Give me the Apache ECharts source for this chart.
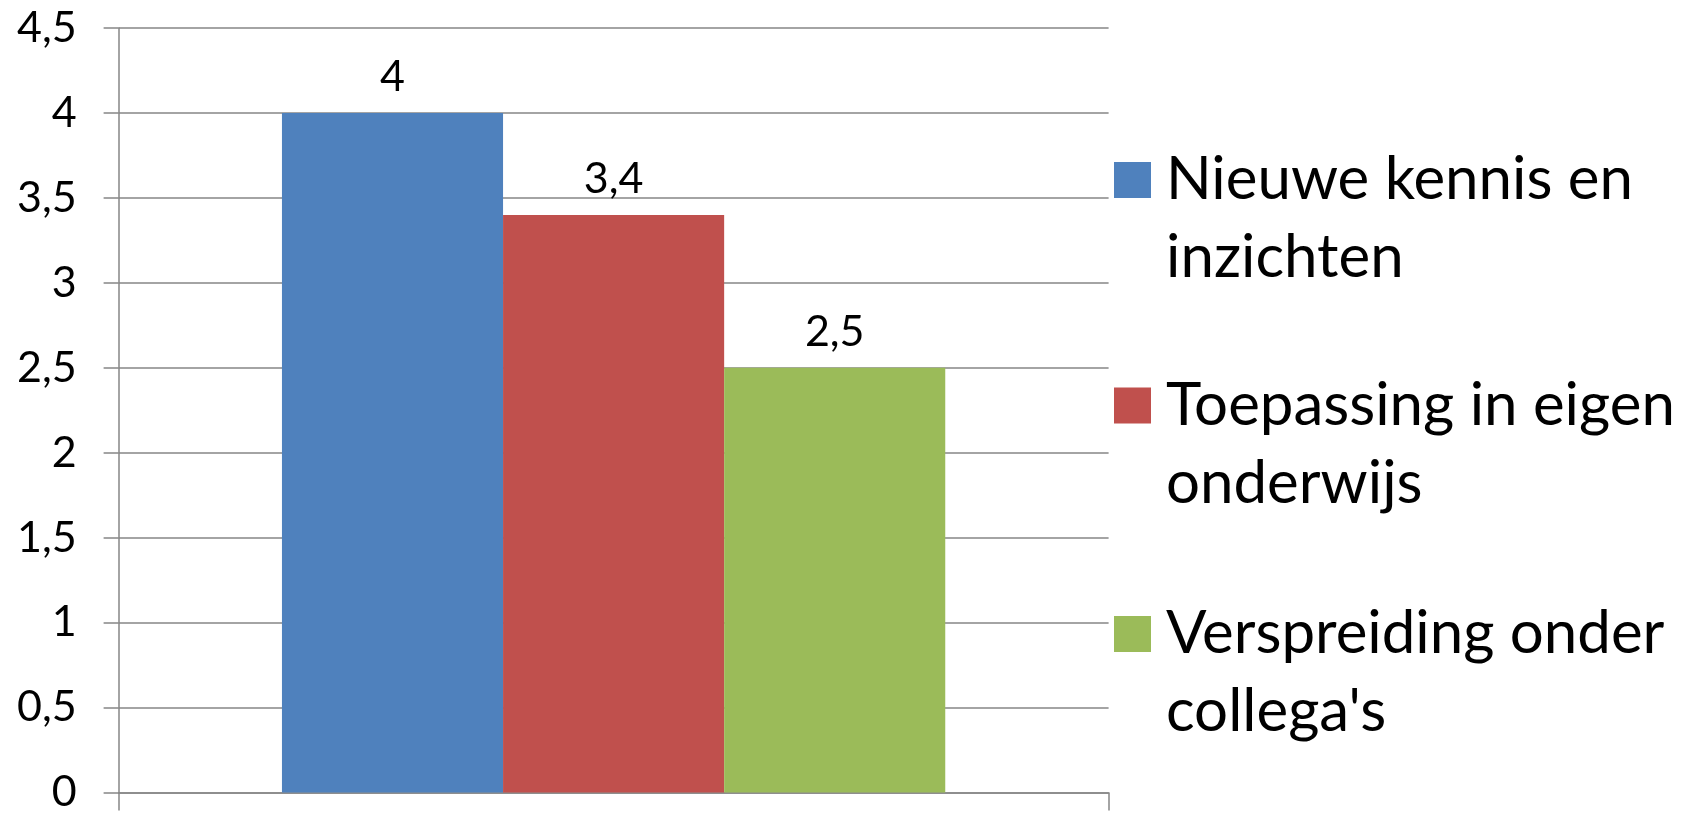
<!DOCTYPE html>
<html>
<head>
<meta charset="utf-8">
<script src="https://cdn.jsdelivr.net/npm/echarts@6/dist/echarts.min.js"></script>
<style>
html,body{margin:0;padding:0;background:#fff;}
#chart{width:1691px;height:814px;}
</style>
</head>
<body>
<div id="chart"></div>
<script>
const categories = [''];
const seriesNames = ['Nieuwe kennis en\ninzichten', 'Toepassing in eigen\nonderwijs', 'Verspreiding onder\ncollega\'s'];
const seriesValues = [[4], [3.4], [2.5]];
const seriesColors = ['#4F81BD', '#C0504D', '#9BBB59'];
const yTickLabels = ['0', '0,5', '1', '1,5', '2', '2,5', '3', '3,5', '4', '4,5'];

const FONT = 'Lato';
const legendTops = [63, 288.5, 517];

const chart = echarts.init(document.getElementById('chart'));
const option = {
  backgroundColor: '#ffffff',
  animation: false,
  grid: { left: 118.6, right: 582.4, top: 28, bottom: 16.5, containLabel: false },
  xAxis: {
    type: 'category',
    data: categories,
    axisLine: { show: true, lineStyle: { color: '#868686', width: 1.5 } },
    axisTick: { show: true, length: 18, alignWithLabel: false, lineStyle: { color: '#868686', width: 1.5 } },
    axisLabel: { show: false },
    splitLine: { show: false }
  },
  yAxis: {
    type: 'value',
    min: 0,
    max: 4.5,
    interval: 0.5,
    axisLine: { show: true, lineStyle: { color: '#868686', width: 1.5 } },
    axisTick: { show: true, length: 15, lineStyle: { color: '#868686', width: 1.5 } },
    axisLabel: {
      margin: 42,
      color: '#000',
      fontFamily: FONT,
      fontSize: 43,
      formatter: function (v) { return yTickLabels[Math.round(v / 0.5)]; }
    },
    splitLine: { show: true, lineStyle: { color: '#868686', width: 1.5 } }
  },
  legend: seriesNames.map(function (name, i) {
    return {
      data: [name],
      orient: 'vertical',
      left: 1114,
      top: legendTops[i],
      padding: 0,
      icon: 'rect',
      itemWidth: 37,
      itemHeight: 36,
      selectedMode: false,
      formatter: function (n) { return '\n' + n; },
      textStyle: {
        fontFamily: FONT,
        fontSize: 60,
        color: '#000',
        lineHeight: 78,
        padding: [0, 0, 0, 10]
      }
    };
  }),
  series: seriesNames.map(function (name, i) {
    return {
      name: name,
      type: 'bar',
      data: seriesValues[i],
      barGap: '0%',
      barCategoryGap: '33%',
      itemStyle: { color: seriesColors[i] },
      label: {
        show: true,
        position: 'top',
        distance: 14,
        color: '#000',
        fontFamily: FONT,
        fontSize: 43,
        formatter: function (p) { return String(p.value).replace('.', ','); }
      }
    };
  })
};
chart.setOption(option);
</script>
</body>
</html>
